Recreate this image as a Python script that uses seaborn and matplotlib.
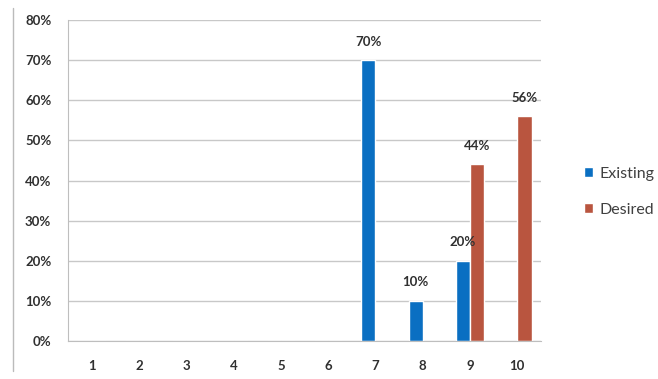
import matplotlib
matplotlib.use("Agg")
import matplotlib.pyplot as plt
import seaborn as sns
import pandas as pd
from matplotlib.ticker import PercentFormatter

categories = ["1", "2", "3", "4", "5", "6", "7", "8", "9", "10"]
existing = [0, 0, 0, 0, 0, 0, 0.70, 0.10, 0.20, 0]
desired = [0, 0, 0, 0, 0, 0, 0, 0, 0.44, 0.56]
series = ["Existing", "Desired"]
colors = ["#0A6FC2", "#B9553F"]

df = pd.DataFrame({
    "cat": categories * 2,
    "value": existing + desired,
    "series": [series[0]] * len(categories) + [series[1]] * len(categories),
})

sns.set_style("white")
plt.rcParams["font.family"] = ["Lato", "DejaVu Sans"]

fig = plt.figure(figsize=(6.58, 3.79), dpi=100)
ax = fig.add_axes([68 / 658, 1 - 341 / 379, (541 - 68) / 658, (341 - 20) / 379])

sns.barplot(data=df, x="cat", y="value", hue="series", palette=colors,
            width=0.6, ax=ax, saturation=1, legend=True)

ax.set_ylim(0, 0.8)
ax.set_yticks([i / 10 for i in range(9)])
ax.yaxis.set_major_formatter(PercentFormatter(1.0, decimals=0))
ax.set_xlim(-0.5, len(categories) - 0.5)
ax.grid(axis="y", color="#C8C8C8", linewidth=1)
ax.set_axisbelow(True)
for s in ["top", "right"]:
    ax.spines[s].set_visible(False)
ax.spines["left"].set_color("#BEBEBE")
ax.spines["bottom"].set_color("#BEBEBE")
ax.tick_params(axis="both", length=0, labelsize=9.5, labelcolor="#303030")
for lbl in ax.get_xticklabels() + ax.get_yticklabels():
    lbl.set_fontweight("bold")
ax.tick_params(axis="x", pad=14)
ax.tick_params(axis="y", pad=12)
ax.set_xlabel("")
ax.set_ylabel("")

# minor ticks between categories on x axis
ax.set_xticks([i + 0.5 for i in range(len(categories) - 1)], minor=True)
ax.tick_params(axis="x", which="minor", length=4, color="#BEBEBE", direction="out")

for cont in ax.containers:
    labels = [f"{v * 100:.0f}%" if v > 0 else "" for v in cont.datavalues]
    ax.bar_label(cont, labels=labels, padding=9, fontsize=9.5, fontweight="bold",
                 color="#303030")

leg = ax.legend(loc="center left", bbox_to_anchor=(1.06, 0.465), frameon=False,
                handlelength=0.6, handleheight=0.6, handletextpad=0.4,
                labelspacing=1.35, fontsize=11.5, labelcolor="#404040")

fig.add_artist(plt.Line2D([13 / 658, 13 / 658], [0.02, 0.98], color="#BBBBBB",
                          linewidth=1, transform=fig.transFigure))

fig.savefig("out.png", dpi=100)
